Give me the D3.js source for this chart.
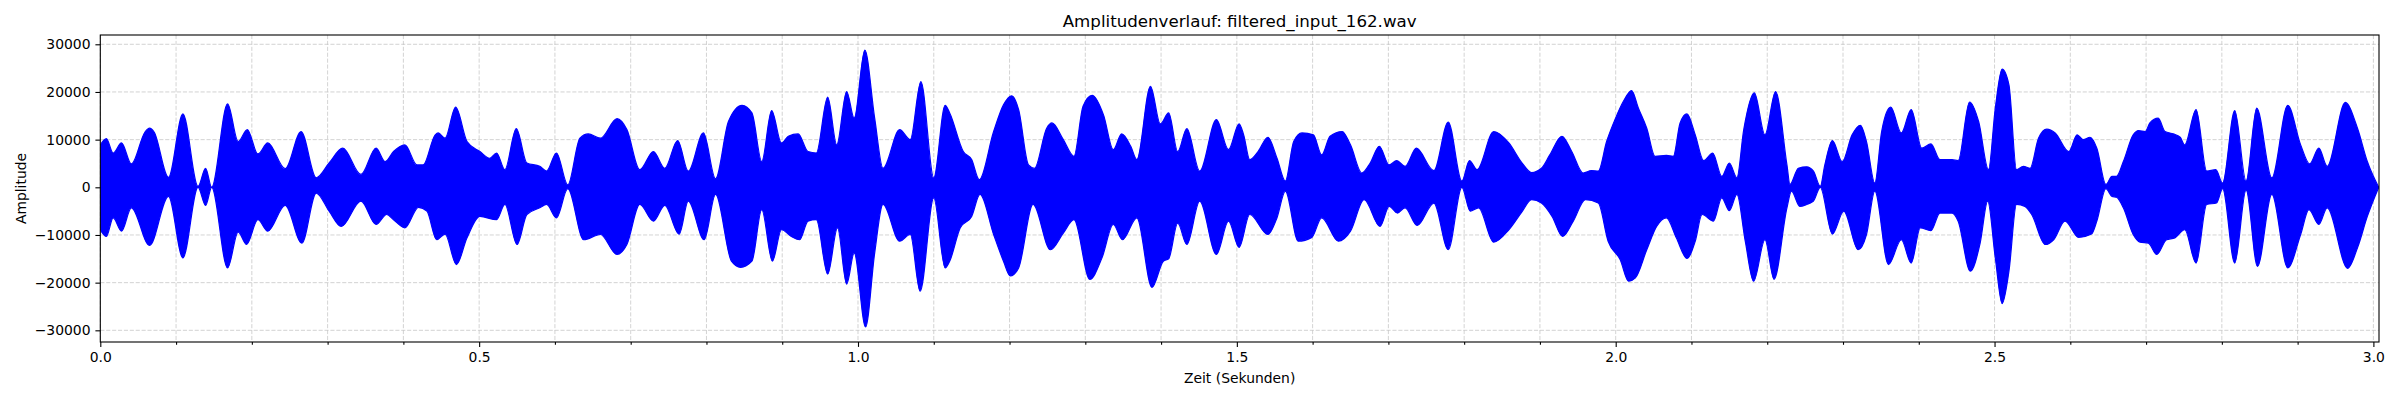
<!DOCTYPE html>
<html><head><meta charset="utf-8">
<script src="https://cdn.jsdelivr.net/npm/d3@7"></script>
<style>body{margin:0;background:#fff} text{font-family:"DejaVu Sans",sans-serif}</style>
</head><body><svg id="c" width="2400" height="400"></svg>
<script>
const titleText = "Amplitudenverlauf: filtered_input_162.wav";
const xLabelText = "Zeit (Sekunden)";
const yLabelText = "Amplitude";
const duration = 3.0074;
const yMin = -32450, yMax = 31950;
const xMajorTicks = [0, 0.5, 1.0, 1.5, 2.0, 2.5, 3.0];
const xMinorTicks = [0.1,0.2,0.3,0.4,0.6,0.7,0.8,0.9,1.1,1.2,1.3,1.4,1.6,1.7,1.8,1.9,2.1,2.2,2.3,2.4,2.6,2.7,2.8,2.9];
const yTicks = [-30000, -20000, -10000, 0, 10000, 20000, 30000];

// upper envelope of the waveform [time s, amplitude]
const upperEnvelope = [[0.000,8900],[0.008,10200],[0.017,7200],[0.028,9300],[0.041,4900],[0.059,11600],[0.065,12400],[0.071,11600],[0.090,2100],[0.109,15400],[0.129,200],[0.139,4000],[0.147,0],[0.168,17500],[0.182,9600],[0.194,12100],[0.208,7000],[0.221,9300],[0.244,3900],[0.265,11700],[0.285,2000],[0.302,5100],[0.320,8200],[0.344,2700],[0.364,8200],[0.376,5400],[0.387,7500],[0.402,8900],[0.418,4700],[0.426,4700],[0.442,11000],[0.446,11400],[0.455,10300],[0.469,16800],[0.484,9600],[0.501,7500],[0.514,6100],[0.523,7200],[0.534,3700],[0.549,12300],[0.563,5100],[0.580,4400],[0.589,3400],[0.602,7200],[0.617,500],[0.633,10300],[0.644,11200],[0.660,10300],[0.682,14400],[0.695,12100],[0.712,3700],[0.730,7500],[0.745,4000],[0.762,9800],[0.776,3400],[0.796,11400],[0.812,1800],[0.829,13800],[0.847,17200],[0.860,15600],[0.873,5400],[0.886,16100],[0.899,9300],[0.908,10700],[0.921,11200],[0.934,7500],[0.945,7200],[0.960,18900],[0.972,8900],[0.985,20100],[0.995,14500],[1.009,28800],[1.022,14500],[1.033,4000],[1.055,12100],[1.069,10000],[1.083,22200],[1.100,2000],[1.115,17200],[1.121,15600],[1.139,7500],[1.150,5800],[1.160,1600],[1.179,11700],[1.192,17300],[1.203,19200],[1.212,16300],[1.225,4700],[1.233,4000],[1.249,12400],[1.256,13500],[1.271,10000],[1.285,6500],[1.297,17000],[1.309,19300],[1.324,15200],[1.337,7900],[1.348,11200],[1.360,8600],[1.368,5800],[1.386,21200],[1.399,13300],[1.410,15600],[1.422,7500],[1.434,12300],[1.451,3400],[1.473,14200],[1.489,7900],[1.503,13300],[1.509,11000],[1.517,5800],[1.528,7500],[1.541,10500],[1.553,6100],[1.564,1300],[1.575,9600],[1.586,11400],[1.601,11000],[1.612,6800],[1.623,10700],[1.639,11700],[1.650,8900],[1.665,3000],[1.676,5100],[1.688,8600],[1.701,4700],[1.711,5600],[1.722,4400],[1.737,8200],[1.760,3500],[1.779,13700],[1.797,1300],[1.807,5600],[1.817,3700],[1.839,11700],[1.859,9300],[1.876,5200],[1.889,3100],[1.902,4000],[1.913,6800],[1.929,10700],[1.942,7500],[1.957,3000],[1.968,3500],[1.977,3400],[1.988,9600],[1.999,14200],[2.010,18000],[2.021,20300],[2.030,16600],[2.041,12400],[2.052,6500],[2.067,6700],[2.076,6500],[2.085,13500],[2.094,15400],[2.105,11000],[2.116,5600],[2.128,7200],[2.140,2300],[2.150,5100],[2.160,2000],[2.169,12100],[2.183,19800],[2.197,11000],[2.211,20100],[2.226,4700],[2.230,600],[2.241,4000],[2.252,4300],[2.261,3400],[2.270,200],[2.276,4700],[2.286,9800],[2.299,5400],[2.312,11000],[2.323,13000],[2.331,9600],[2.342,900],[2.351,11700],[2.363,16800],[2.377,11400],[2.390,16300],[2.404,8200],[2.416,9100],[2.428,5800],[2.444,5800],[2.452,5600],[2.467,17900],[2.479,13800],[2.492,3700],[2.501,16600],[2.510,24800],[2.519,21500],[2.529,3700],[2.538,4400],[2.547,4000],[2.558,10300],[2.569,12200],[2.580,11400],[2.598,7500],[2.609,11000],[2.617,10000],[2.626,10500],[2.635,8200],[2.647,600],[2.655,2300],[2.661,2300],[2.670,5400],[2.683,11000],[2.690,11900],[2.699,11700],[2.705,13500],[2.716,14500],[2.725,11700],[2.736,11200],[2.745,10500],[2.751,8900],[2.766,16300],[2.780,3400],[2.792,3700],[2.801,900],[2.817,16100],[2.832,1300],[2.846,16600],[2.866,2000],[2.887,17200],[2.904,8900],[2.916,4900],[2.928,8200],[2.939,4400],[2.963,17800],[2.979,12400],[2.992,5400],[3.007,0]];

// lower envelope of the waveform [time s, amplitude]
const lowerEnvelope = [[0.000,-8900],[0.008,-10300],[0.017,-6400],[0.028,-9200],[0.041,-4300],[0.065,-12200],[0.090,-1900],[0.109,-14800],[0.129,0],[0.139,-3800],[0.147,0],[0.168,-16900],[0.182,-9400],[0.193,-12000],[0.208,-6800],[0.221,-9200],[0.244,-3800],[0.266,-11700],[0.285,-1200],[0.302,-5000],[0.318,-8200],[0.344,-2900],[0.364,-7800],[0.378,-5700],[0.387,-6800],[0.402,-8500],[0.420,-4200],[0.431,-5000],[0.444,-11000],[0.455,-9800],[0.470,-16200],[0.484,-10600],[0.501,-6100],[0.523,-6800],[0.534,-3600],[0.550,-12000],[0.563,-5700],[0.580,-4300],[0.589,-3600],[0.602,-6400],[0.617,-300],[0.638,-11000],[0.660,-9900],[0.682,-14100],[0.695,-12000],[0.712,-3600],[0.730,-7100],[0.745,-3800],[0.764,-9800],[0.776,-2900],[0.797,-11000],[0.812,-1500],[0.833,-15500],[0.845,-16800],[0.860,-15500],[0.873,-4700],[0.887,-15500],[0.899,-8900],[0.912,-10300],[0.923,-11000],[0.934,-7100],[0.945,-6800],[0.960,-18200],[0.973,-8500],[0.985,-20300],[0.995,-13800],[1.010,-29300],[1.022,-13800],[1.033,-3600],[1.055,-11300],[1.069,-9900],[1.082,-21800],[1.100,-2200],[1.115,-16900],[1.121,-15500],[1.135,-8500],[1.150,-6100],[1.161,-1500],[1.179,-9900],[1.192,-15500],[1.201,-18600],[1.212,-16900],[1.231,-3600],[1.254,-13100],[1.271,-9600],[1.285,-6800],[1.306,-19300],[1.322,-14800],[1.337,-7800],[1.349,-11000],[1.368,-6400],[1.388,-21000],[1.403,-15500],[1.410,-15000],[1.422,-7500],[1.434,-12000],[1.451,-2900],[1.473,-14100],[1.489,-7100],[1.503,-12600],[1.517,-5700],[1.541,-9900],[1.553,-6400],[1.564,-800],[1.581,-11300],[1.599,-10500],[1.612,-6400],[1.634,-11300],[1.650,-9200],[1.668,-2600],[1.689,-8200],[1.701,-4000],[1.712,-5400],[1.722,-4300],[1.738,-8000],[1.760,-3300],[1.779,-13100],[1.797,0],[1.808,-5000],[1.819,-4300],[1.839,-11500],[1.859,-8900],[1.876,-5200],[1.889,-2600],[1.902,-3300],[1.916,-6100],[1.930,-10300],[1.944,-7100],[1.960,-2600],[1.977,-3300],[1.990,-11300],[2.006,-15200],[2.017,-19700],[2.026,-19000],[2.041,-13100],[2.054,-8200],[2.067,-6400],[2.080,-10600],[2.094,-14900],[2.105,-11300],[2.114,-5700],[2.129,-7100],[2.140,-2200],[2.150,-4900],[2.160,-1500],[2.171,-11300],[2.182,-19700],[2.197,-11000],[2.209,-19300],[2.226,-4300],[2.232,-800],[2.243,-4000],[2.252,-3600],[2.261,-2900],[2.270,0],[2.286,-9800],[2.301,-5000],[2.320,-13100],[2.331,-9900],[2.342,-800],[2.360,-16200],[2.377,-11000],[2.390,-15900],[2.402,-8500],[2.416,-9100],[2.428,-5400],[2.444,-5400],[2.452,-7100],[2.468,-17600],[2.481,-11700],[2.491,-2900],[2.501,-14800],[2.510,-24400],[2.519,-17600],[2.529,-3600],[2.540,-4000],[2.549,-5700],[2.567,-12000],[2.578,-11000],[2.593,-7100],[2.611,-10500],[2.628,-9800],[2.635,-7100],[2.647,-300],[2.655,-1900],[2.661,-2100],[2.670,-4300],[2.683,-9900],[2.692,-11500],[2.703,-11700],[2.714,-14100],[2.727,-11000],[2.738,-10600],[2.751,-8900],[2.766,-15900],[2.780,-3600],[2.793,-3300],[2.801,-300],[2.817,-15900],[2.832,-600],[2.847,-16600],[2.866,-1500],[2.887,-16900],[2.904,-9900],[2.915,-4700],[2.928,-7800],[2.939,-4300],[2.966,-17000],[2.979,-12700],[2.992,-6100],[3.007,0]];

const svg = d3.select("#c");
const L = 100.3, R = 2379, T = 35, B = 342;
const x = d3.scaleLinear().domain([0, duration]).range([L, R]);
const y = d3.scaleLinear().domain([yMin, yMax]).range([B, T]);
const gridColor = "#c8c8c8";

svg.append("defs").append("clipPath").attr("id","clip")
  .append("rect").attr("x",L).attr("y",T).attr("width",R-L).attr("height",B-T);

// grid
const grid = svg.append("g");
grid.selectAll(".vg").data(xMajorTicks.concat(xMinorTicks)).enter().append("line")
  .attr("x1", d => x(d)).attr("x2", d => x(d)).attr("y1", T).attr("y2", B)
  .attr("stroke", gridColor).attr("stroke-width", 0.8).attr("stroke-dasharray","4.1,1.8");
grid.selectAll(".hg").data(yTicks).enter().append("line")
  .attr("x1", L).attr("x2", R).attr("y1", d => y(d)).attr("y2", d => y(d))
  .attr("stroke", gridColor).attr("stroke-width", 0.8).attr("stroke-dasharray","4.1,1.8");

// waveform
const plot = svg.append("g").attr("clip-path","url(#clip)");
const upperArea = d3.area().x(d => x(d[0])).y0(y(0)).y1(d => y(d[1])).curve(d3.curveMonotoneX);
const lowerArea = d3.area().x(d => x(d[0])).y0(y(0)).y1(d => y(d[1])).curve(d3.curveMonotoneX);
plot.append("path").attr("d", upperArea(upperEnvelope)).attr("fill","#0000ff").attr("stroke","#0000ff").attr("stroke-width",1.2).attr("stroke-linejoin","round");
plot.append("path").attr("d", lowerArea(lowerEnvelope)).attr("fill","#0000ff").attr("stroke","#0000ff").attr("stroke-width",1.2).attr("stroke-linejoin","round");

// axes
const fmtX = d3.format(".1f");
const fmtY = d3.format("d");
const gx = svg.append("g").attr("transform",`translate(0,${B})`)
  .call(d3.axisBottom(x).tickValues(xMajorTicks).tickFormat(fmtX).tickSizeInner(4.9).tickSizeOuter(0).tickPadding(4.9));
const gxm = svg.append("g").attr("transform",`translate(0,${B})`)
  .call(d3.axisBottom(x).tickValues(xMinorTicks).tickFormat("").tickSizeInner(2.8).tickSizeOuter(0));
const gy = svg.append("g").attr("transform",`translate(${L},0)`)
  .call(d3.axisLeft(y).tickValues(yTicks).tickFormat(fmtY).tickSizeInner(4.9).tickSizeOuter(0).tickPadding(4.9));
[gx,gxm,gy].forEach(g => {
  g.select(".domain").remove();
  g.selectAll("line").attr("stroke","#000").attr("stroke-width",1.1);
  g.selectAll("text").attr("font-size","13.9px").attr("font-family","DejaVu Sans").attr("fill","#000");
});

// frame
svg.append("rect").attr("x",L).attr("y",T).attr("width",R-L).attr("height",B-T)
  .attr("fill","none").attr("stroke","#000").attr("stroke-width",1.1);

// labels
svg.append("text").attr("x",(L+R)/2).attr("y",26.7).attr("text-anchor","middle")
  .attr("font-size","16.67px").text(titleText);
svg.append("text").attr("x",(L+R)/2).attr("y",383).attr("text-anchor","middle")
  .attr("font-size","13.9px").text(xLabelText);
svg.append("text").attr("transform",`translate(25.5,${(T+B)/2}) rotate(-90)`).attr("text-anchor","middle")
  .attr("font-size","13.9px").text(yLabelText);
</script></body></html>
